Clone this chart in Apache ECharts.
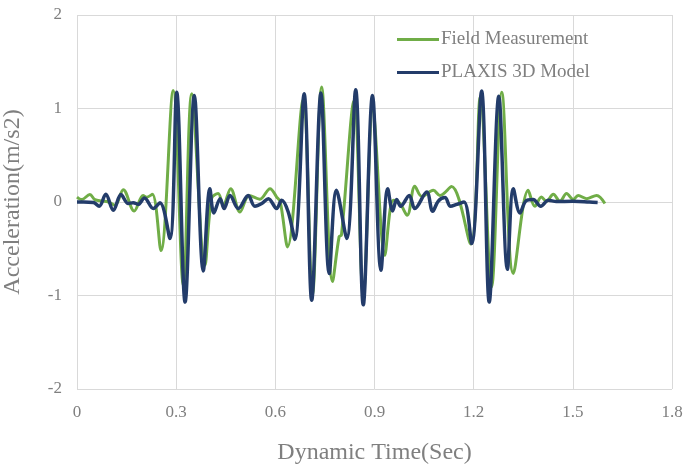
<!DOCTYPE html>
<html>
<head>
<meta charset="utf-8">
<script src="https://cdn.jsdelivr.net/npm/echarts@6/dist/echarts.min.js"></script>
<style>html,body{margin:0;padding:0;background:#fff;}#c{width:684px;height:465px;}</style>
</head>
<body>
<div id="c"></div>
<script>
var xTicks = [0, 0.3, 0.6, 0.9, 1.2, 1.5, 1.8];
var yTicks = [-2, -1, 0, 1, 2];
var seriesNames = ['Field Measurement', 'PLAXIS 3D Model'];

var fieldTime = [0, 0.014, 0.039, 0.054, 0.075, 0.095, 0.115, 0.140, 0.173, 0.200, 0.210, 0.228, 0.254, 0.291, 0.3216, 0.347, 0.387, 0.407, 0.427, 0.4425, 0.465, 0.493, 0.521, 0.553, 0.584, 0.604, 0.615, 0.637, 0.684, 0.712, 0.740, 0.773, 0.793, 0.800, 0.838, 0.866, 0.895, 0.931, 0.947, 0.957, 0.977, 0.999, 1.022, 1.043, 1.078, 1.098, 1.133, 1.191, 1.220, 1.254, 1.285, 1.320, 1.365, 1.385, 1.405, 1.420, 1.441, 1.461, 1.481, 1.501, 1.516, 1.542, 1.572, 1.597];
var fieldAcc = [0.053, 0.026, 0.079, 0.026, 0.01, 0.0, -0.035, 0.132, -0.096, 0.07, 0.05, 0.082, -0.52, 1.193, -0.89, 1.158, -0.676, 0.036, 0.09, -0.035, 0.143, -0.107, 0.07, 0.03, 0.143, 0.053, 0.0, -0.48, 1.09, -1.0, 1.23, -0.85, -0.37, -0.355, 1.08, -1.0, 0.98, -0.57, -0.09, 0.018, -0.017, -0.142, 0.168, 0.06, 0.125, 0.07, 0.165, -0.45, 1.12, -0.91, 1.175, -0.765, 0.125, -0.046, 0.053, 0.007, 0.082, 0.007, 0.09, 0.026, 0.07, 0.036, 0.07, -0.017];

var plaxisTime = [0, 0.02, 0.05, 0.067, 0.087, 0.110, 0.133, 0.155, 0.170, 0.185, 0.204, 0.231, 0.251, 0.281, 0.3016, 0.327, 0.355, 0.382, 0.402, 0.414, 0.433, 0.445, 0.463, 0.488, 0.518, 0.538, 0.559, 0.579, 0.604, 0.619, 0.639, 0.659, 0.687, 0.710, 0.738, 0.763, 0.785, 0.816, 0.843, 0.866, 0.894, 0.9195, 0.940, 0.955, 0.967, 0.979, 1.005, 1.022, 1.058, 1.076, 1.093, 1.113, 1.130, 1.149, 1.171, 1.194, 1.224, 1.247, 1.276, 1.302, 1.320, 1.340, 1.358, 1.380, 1.403, 1.426, 1.450, 1.500, 1.550, 1.575];
var plaxisAcc = [0, 0.0, -0.005, -0.046, 0.082, -0.089, 0.079, -0.017, -0.007, -0.025, 0.043, -0.07, -0.007, -0.39, 1.175, -1.07, 1.14, -0.737, 0.143, -0.117, 0.036, -0.07, 0.07, -0.07, 0.07, -0.046, -0.017, 0.036, -0.07, 0.018, -0.107, -0.40, 1.158, -1.05, 1.165, -0.765, 0.125, -0.39, 1.20, -1.10, 1.14, -0.73, 0.143, -0.096, 0.026, -0.046, 0.07, -0.07, 0.107, -0.1, 0.01, 0.047, -0.046, -0.025, 0.0, -0.445, 1.186, -1.07, 1.13, -0.72, 0.143, -0.117, 0.01, 0.026, -0.046, 0.018, 0.005, 0.008, 0.0, -0.005];

function zip(a, b) { return a.map(function (v, i) { return [v, b[i]]; }); }

var chart = echarts.init(document.getElementById('c'), null, {renderer: 'canvas'});
var font = '"Liberation Serif", "Times New Roman", serif';
var grey = '#7f7f7f';
chart.setOption({
  animation: false,
  backgroundColor: '#fff',
  grid: {left: 77, right: 12, top: 15, bottom: 76, containLabel: false, outerBoundsMode: 'none'},
  legend: {
    orient: 'vertical', left: 392, top: 25, itemWidth: 42, itemHeight: 3, itemGap: 14,
    icon: 'rect',
    textStyle: {fontFamily: font, fontSize: 19, color: grey, padding: [0, 0, 0, -3]},
    data: seriesNames
  },
  xAxis: {
    type: 'value', min: xTicks[0], max: xTicks[xTicks.length - 1], interval: 0.3,
    name: 'Dynamic Time(Sec)', nameLocation: 'middle', nameGap: 52,
    nameTextStyle: {fontFamily: font, fontSize: 24, color: grey},
    axisLine: {show: false}, axisTick: {show: false},
    axisLabel: {fontFamily: font, fontSize: 17, color: grey, margin: 15,
      formatter: function (v) { return String(Math.round(v * 10) / 10); }},
    splitLine: {show: true, lineStyle: {color: '#d9d9d9', width: 1}}
  },
  yAxis: {
    type: 'value', min: yTicks[0], max: yTicks[yTicks.length - 1], interval: 1,
    name: 'Acceleration(m/s2)', nameLocation: 'middle', nameGap: 52, nameRotate: 90,
    nameTextStyle: {fontFamily: font, fontSize: 24, color: grey},
    axisLine: {show: false}, axisTick: {show: false},
    axisLabel: {fontFamily: font, fontSize: 17, color: grey, margin: 15},
    splitLine: {show: true, lineStyle: {color: '#d9d9d9', width: 1}}
  },
  series: [
    {name: seriesNames[0], type: 'line', data: zip(fieldTime, fieldAcc), smooth: 0.35,
      showSymbol: false, lineStyle: {color: '#70ad47', width: 3}, itemStyle: {color: '#70ad47'}, z: 2},
    {name: seriesNames[1], type: 'line', data: zip(plaxisTime, plaxisAcc), smooth: 0.35,
      showSymbol: false, lineStyle: {color: '#233c6a', width: 3.5}, itemStyle: {color: '#233c6a'}, z: 3}
  ]
});
</script>
</body>
</html>
